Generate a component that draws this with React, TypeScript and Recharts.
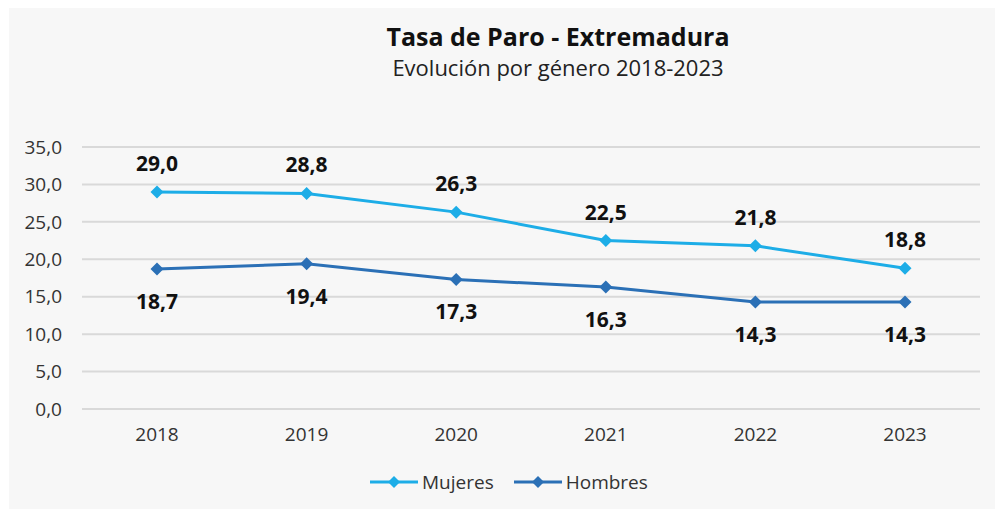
import React from 'react'
import { LineChart, Line, XAxis, YAxis, CartesianGrid, Legend, LabelList } from 'recharts'

const YEARS = ['2018', '2019', '2020', '2021', '2022', '2023']
const MUJERES = [29.0, 28.8, 26.3, 22.5, 21.8, 18.8]
const HOMBRES = [18.7, 19.4, 17.3, 16.3, 14.3, 14.3]
const Y_TICKS = [0, 5, 10, 15, 20, 25, 30, 35]

const C_MUJ = '#1dade7'
const C_HOM = '#2b70b6'
const FONT = '"Open Sans", "Noto Sans", sans-serif'

const data = YEARS.map((y, i) => ({ year: y, mujeres: MUJERES[i], hombres: HOMBRES[i] }))

const fmt = (v: number) => v.toFixed(1).replace('.', ',')

function diamond(color: string) {
  return (p: any) => {
    const { cx, cy, index } = p
    if (cx == null || cy == null) return <g key={index} />
    const r = 6.5
    return (
      <path key={index} d={`M${cx},${cy - r} L${cx + r},${cy} L${cx},${cy + r} L${cx - r},${cy} Z`} fill={color} />
    )
  }
}

function LegendIcon({ color }: { color: string }) {
  return (
    <svg width={48} height={14} style={{ display: 'block' }}>
      <line x1={0} y1={7} x2={48} y2={7} stroke={color} strokeWidth={3} />
      <path d="M24,1 L30,7 L24,13 L18,7 Z" fill={color} />
    </svg>
  )
}

function renderLegend() {
  const items = [
    { name: 'Mujeres', color: C_MUJ },
    { name: 'Hombres', color: C_HOM },
  ]
  return (
    <div style={{ display: 'flex', alignItems: 'center', fontFamily: FONT, fontSize: 19, color: '#333' }}>
      {items.map((it, i) => (
        <div key={it.name} style={{ display: 'flex', alignItems: 'center', marginRight: i === 0 ? 20 : 0 }}>
          <LegendIcon color={it.color} />
          <span style={{ marginLeft: 4 }}>{it.name}</span>
        </div>
      ))}
    </div>
  )
}

export default function App() {
  return (
    <div style={{ position: 'fixed', left: 9, top: 8, width: 986, height: 501, background: '#f7f7f7', overflow: 'hidden' }}>
      <div style={{ position: 'absolute', left: 0, width: 1098, top: 12, textAlign: 'center', fontFamily: FONT, color: '#111' }}>
        <div style={{ fontSize: 25, fontWeight: 700, lineHeight: '32px' }}>Tasa de Paro - Extremadura</div>
        <div style={{ fontSize: 22, lineHeight: '30px', color: '#222' }}>Evolución por género 2018-2023</div>
      </div>
      <LineChart width={986} height={501} data={data} margin={{ top: 139, right: 15, left: 0, bottom: 44 }}
        style={{ position: 'absolute', left: 0, top: 0 }}>
        <CartesianGrid vertical={false} stroke="#d9d9d9" strokeWidth={2} />
        <XAxis dataKey="year" axisLine={false} tickLine={false} tickMargin={13} padding={{ left: 75, right: 75 }}
          tick={{ fontSize: 19, fill: '#333', fontFamily: FONT }} />
        <YAxis width={73} domain={[0, 35]} ticks={Y_TICKS} axisLine={false} tickLine={false} tickMargin={14}
          tickFormatter={fmt} tick={{ fontSize: 19, fill: '#333', fontFamily: FONT }} />
        <Legend content={renderLegend} wrapperStyle={{ position: 'absolute', left: 361, top: 461, width: 'auto' }} />
        <Line type="linear" dataKey="mujeres" name="Mujeres" stroke={C_MUJ} strokeWidth={3} dot={diamond(C_MUJ)}
          activeDot={false} isAnimationActive={false}>
          <LabelList dataKey="mujeres" position="top" offset={21} formatter={(v: any) => fmt(Number(v))}
            style={{ fontSize: 21, fontWeight: 700, fill: '#111', fontFamily: FONT }} />
        </Line>
        <Line type="linear" dataKey="hombres" name="Hombres" stroke={C_HOM} strokeWidth={3} dot={diamond(C_HOM)}
          activeDot={false} isAnimationActive={false}>
          <LabelList dataKey="hombres" position="bottom" offset={25} formatter={(v: any) => fmt(Number(v))}
            style={{ fontSize: 21, fontWeight: 700, fill: '#111', fontFamily: FONT }} />
        </Line>
      </LineChart>
    </div>
  )
}
